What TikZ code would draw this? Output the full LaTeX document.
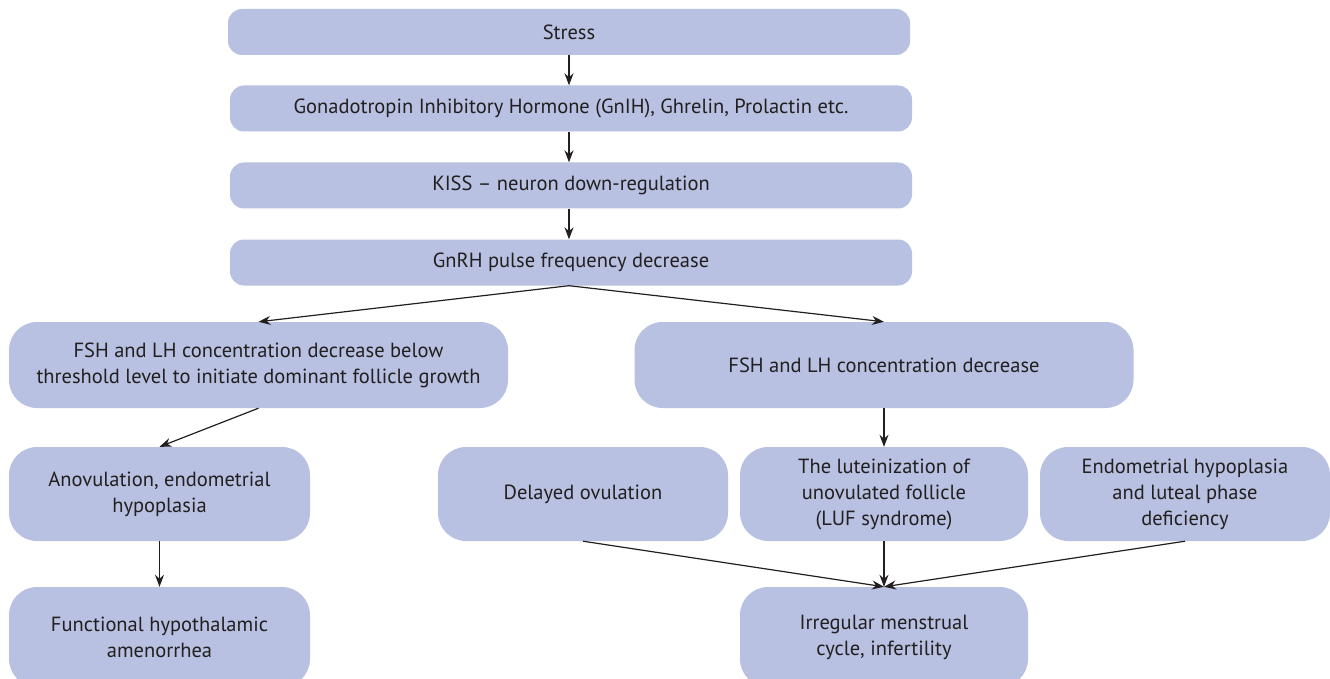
\documentclass[tikz,border=0pt]{standalone}
\usepackage{fontspec}
\setmainfont{PT Sans}
\usetikzlibrary{arrows.meta}
\definecolor{boxfill}{HTML}{B8C1E1}
\definecolor{ink}{HTML}{231F20}
\begin{document}
\begin{tikzpicture}[x=1pt,y=-1pt,
  box/.style={fill=boxfill, draw=none, inner sep=0pt, align=center, text=ink,
    font=\fontsize{20.5}{26}\selectfont},
  wide/.style={box, rounded corners=14pt, minimum width=682pt, minimum height=46pt},
  mid/.style={box, rounded corners=28pt, minimum width=499pt, minimum height=86pt},
  small/.style={box, rounded corners=28pt, minimum width=290pt, minimum height=94pt},
  conn/.style={draw=ink, line width=1.2pt, -{Stealth[length=12pt,width=9pt]}}]
\useasboundingbox (0,0) rectangle (1330,679);
\node[wide] (stress) at (569,32) {Stress};
\node[wide] (gnih) at (571,108.5) {Gonadotropin Inhibitory Hormone (GnIH), Ghrelin, Prolactin etc.};
\node[wide] (kiss) at (571,185.5) {KISS -- neuron down-regulation};
\node[wide] (gnrh) at (571,262.5) {GnRH pulse frequency decrease};
\node[mid] (fshl) at (258.5,365) {FSH and LH concentration decrease below\\threshold level to initiate dominant follicle growth};
\node[mid] (fshr) at (884,365) {FSH and LH concentration decrease};
\node[small, minimum width=301pt] (anov) at (159.5,494) {Anovulation, endometrial\\hypoplasia};
\node[small, minimum width=301pt, minimum height=100pt] (func) at (159.5,637) {Functional hypothalamic\\amenorrhea};
\node[small] (delay) at (583,494) {Delayed ovulation};
\node[small, minimum width=288pt] (luf) at (884,494) {The luteinization of\\unovulated follicle\\(LUF syndrome)};
\node[small] (endo) at (1185,494) {Endometrial hypoplasia\\and luteal phase\\deficiency};
\node[small, minimum width=288pt, minimum height=100pt] (irr) at (884,637) {Irregular menstrual\\cycle, infertility};
\draw[conn] (stress.south) -- (gnih.north -| stress.south);
\draw[conn] (gnih.south -| stress.south) -- (kiss.north -| stress.south);
\draw[conn] (kiss.south -| stress.south) -- (gnrh.north -| stress.south);
\coordinate (gs) at (gnrh.south -| stress.south);
\draw[conn] (gs) -- (fshl.north);
\draw[conn] (gs) -- (fshr.north);
\draw[conn] (fshl.south) -- (anov.north);
\draw[conn] (anov.south) -- (func.north);
\draw[conn] (fshr.south) -- (luf.north);
\draw[conn] (delay.south) -- (irr.north);
\draw[conn] (luf.south) -- (irr.north);
\draw[conn] (endo.south) -- (irr.north);
\end{tikzpicture}
\end{document}
